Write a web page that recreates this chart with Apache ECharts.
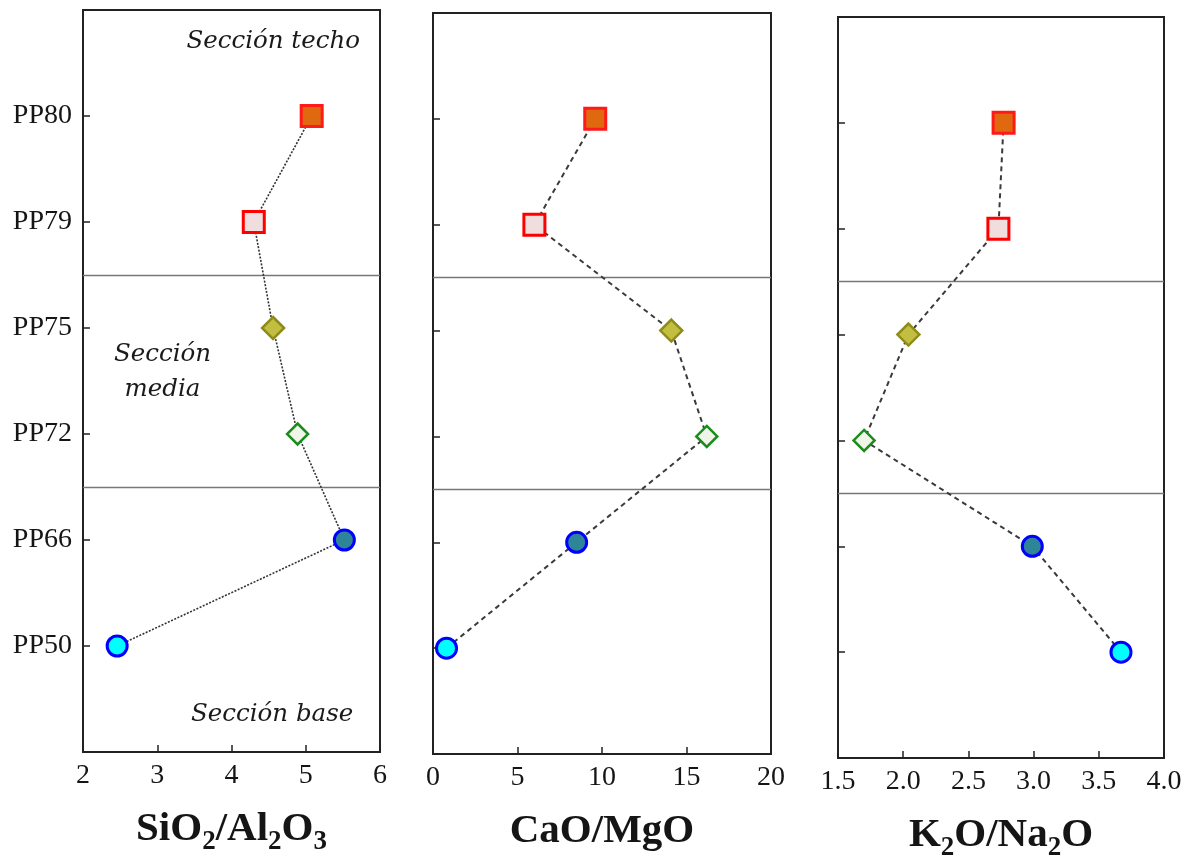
<!DOCTYPE html>
<html>
<head>
<meta charset="utf-8">
<script src="https://cdn.jsdelivr.net/npm/echarts@6/dist/echarts.min.js"></script>
<style>
html, body { margin: 0; padding: 0; background: #ffffff; }
#chart { width: 1181px; height: 855px; }
</style>
</head>
<body>
<div id="chart"></div>
<script>
// Samples, ordered from base (bottom) to top of the section
const samples = ['PP50', 'PP66', 'PP72', 'PP75', 'PP79', 'PP80'];

// Geochemical ratios per sample
const sio2Al2o3 = [2.46, 5.52, 4.89, 4.56, 4.30, 5.08];
const caoMgo    = [0.8, 8.5, 16.2, 14.1, 6.0, 9.6];
const k2oNa2o   = [3.67, 2.99, 1.70, 2.04, 2.73, 2.77];

// X-axis ranges (min, max, step) for each panel
const xMins      = [2, 0, 1.5];
const xMaxs      = [6, 20, 4.0];
const xSteps     = [1, 5, 0.5];
const xDecimals  = [0, 0, 1];

// Boundaries between the base / middle / top sections (between sample rows)
const sectionBreaks = [1.5, 3.5];

// Section names
const sectionTop    = 'Sección techo';
const sectionMiddle = 'Sección\nmedia';
const sectionBase   = 'Sección base';

// Marker look for each sample
const markerStyle = {
  PP50: { symbol: 'circle',  size: 20, fill: '#00FFFF', stroke: '#0000FF', bw: 3 },
  PP66: { symbol: 'circle',  size: 20, fill: '#2E8598', stroke: '#0000FF', bw: 3 },
  PP72: { symbol: 'diamond', size: 21, fill: '#EFF5E8', stroke: '#1A8C1A', bw: 2.5 },
  PP75: { symbol: 'diamond', size: 22, fill: '#C2BE40', stroke: '#8F8B1A', bw: 2.5 },
  PP79: { symbol: 'rect',    size: 21, fill: '#F0DEDE', stroke: '#FF0000', bw: 3 },
  PP80: { symbol: 'rect',    size: 21, fill: '#E0690F', stroke: '#FF1A1A', bw: 3 }
};

const panelValues = [sio2Al2o3, caoMgo, k2oNa2o];

const grids = [
  { left: 83,  top: 10, width: 297, height: 742 },
  { left: 433, top: 13, width: 338, height: 741 },
  { left: 838, top: 17, width: 326, height: 741 }
];

const serif = '"Liberation Serif", "Times New Roman", serif';
const ink = '#151515';

const titleRich = {
  b: { fontFamily: serif, fontWeight: 'bold', fontSize: 41, color: ink, lineHeight: 44 },
  s: { fontFamily: serif, fontWeight: 'bold', fontSize: 27, color: ink, lineHeight: 30, padding: [26, 0, 0, 0] }
};
const axisTitles = [
  '{b|SiO}{s|2}{b|/Al}{s|2}{b|O}{s|3}',
  '{b|CaO/MgO}',
  '{b|K}{s|2}{b|O/Na}{s|2}{b|O}'
];

const xAxes = grids.map((g, i) => ({
  type: 'value',
  gridIndex: i,
  min: xMins[i],
  max: xMaxs[i],
  interval: xSteps[i],
  name: axisTitles[i],
  nameLocation: 'middle',
  nameGap: 55,
  nameTextStyle: { rich: titleRich },
  axisLine: { show: true, onZero: false, lineStyle: { color: '#222', width: 2 } },
  axisTick: { show: true, inside: true, length: 7, lineStyle: { color: '#222', width: 1.5 } },
  axisLabel: {
    show: true, margin: 10, fontFamily: serif, fontSize: 28, color: ink,
    showMinLabel: true, showMaxLabel: true,
    formatter: v => Number(v).toFixed(xDecimals[i])
  },
  splitLine: { show: false }
}));

const yAxes = grids.map((g, i) => ({
  type: 'value',
  gridIndex: i,
  min: -1,
  max: samples.length,
  interval: 1,
  axisLine: { show: true, onZero: false, lineStyle: { color: '#222', width: 2 } },
  axisTick: { show: true, inside: true, length: 7, lineStyle: { color: '#222', width: 1.5 } },
  axisLabel: {
    show: i === 0, margin: 11, fontFamily: serif, fontSize: 28, color: ink,
    formatter: v => samples[v] || ''
  },
  splitLine: { show: false }
}));

const lineTypes = [
  { type: [2, 1.5], width: 1.6, color: '#333' },
  { type: [5, 4], width: 2, color: '#3a3a3a' },
  { type: [5, 4], width: 2, color: '#3a3a3a' }
];

const series = panelValues.map((vals, i) => ({
  type: 'line',
  xAxisIndex: i,
  yAxisIndex: i,
  z: 3,
  lineStyle: lineTypes[i],
  emphasis: { disabled: true },
  data: vals.map((v, k) => {
    const m = markerStyle[samples[k]];
    return {
      value: [v, k],
      symbol: m.symbol,
      symbolSize: m.size,
      itemStyle: { color: m.fill, borderColor: m.stroke, borderWidth: m.bw, opacity: 1 }
    };
  }),
  showAllSymbol: true,
  markLine: {
    silent: true,
    symbol: 'none',
    label: { show: false },
    z: 1,
    lineStyle: { color: '#777', width: 1.3, type: 'solid' },
    data: sectionBreaks.map(b => ({ yAxis: b }))
  }
}));

const chart = echarts.init(document.getElementById('chart'), null, { renderer: 'canvas' });
chart.setOption({
  backgroundColor: '#ffffff',
  animation: false,
  grid: grids.map(g => Object.assign({
    show: true, borderColor: '#222', borderWidth: 2, backgroundColor: 'transparent',
    containLabel: false, outerBoundsMode: 'none'
  }, g)),
  xAxis: xAxes,
  yAxis: yAxes,
  series: series
});

// Section names, placed in the first panel's data coordinates
const noteFont = 'italic 24.5px "DejaVu Serif", serif';
const pTop  = chart.convertToPixel({ gridIndex: 0 }, [5.73, 5.70]);
const pMid  = chart.convertToPixel({ gridIndex: 0 }, [3.07, 2.58]);
const pBase = chart.convertToPixel({ gridIndex: 0 }, [5.64, -0.65]);
chart.setOption({
  graphic: [
    { type: 'text', x: pTop[0], y: pTop[1], silent: true,
      style: { text: sectionTop, font: noteFont, fill: '#1a1a1a', align: 'right', verticalAlign: 'middle' } },
    { type: 'text', x: pMid[0], y: pMid[1], silent: true,
      style: { text: sectionMiddle, font: noteFont, fill: '#1a1a1a', align: 'center', verticalAlign: 'middle', lineHeight: 35 } },
    { type: 'text', x: pBase[0], y: pBase[1], silent: true,
      style: { text: sectionBase, font: noteFont, fill: '#1a1a1a', align: 'right', verticalAlign: 'middle' } }
  ]
});
</script>
</body>
</html>
